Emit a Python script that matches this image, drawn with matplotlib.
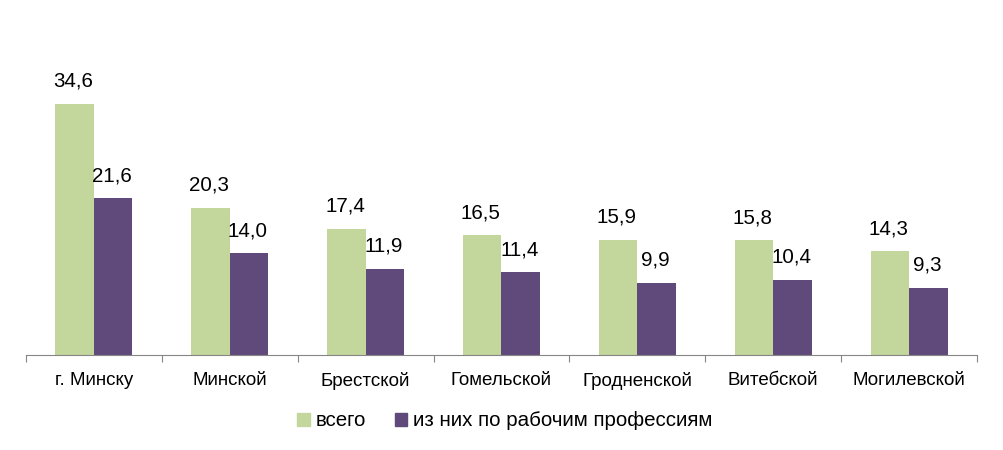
import numpy as np
import matplotlib.pyplot as plt
from matplotlib.patches import Patch

regions = ["г. Минску", "Минской", "Брестской", "Гомельской", "Гродненской", "Витебской", "Могилевской"]
total = [34.6, 20.3, 17.4, 16.5, 15.9, 15.8, 14.3]
workers = [21.6, 14.0, 11.9, 11.4, 9.9, 10.4, 9.3]
series_names = ["всего", "из них по рабочим профессиям"]

green = "#C3D69B"
purple = "#604A7B"

plt.rcParams['font.family'] = ['Liberation Sans', 'DejaVu Sans']

fig = plt.figure(figsize=(10.04, 4.5), dpi=100)
ax = fig.add_axes([26 / 1004, 95 / 450, 951 / 1004, 290.2 / 450])

x = np.arange(len(regions))
w = 0.283
b1 = ax.bar(x - w / 2, total, w, color=green)
b2 = ax.bar(x + w / 2, workers, w, color=purple)

for bars in (b1, b2):
    for r in bars:
        h = r.get_height()
        ax.annotate(f"{h:.1f}".replace(".", ","), (r.get_x() + r.get_width() / 2, h),
                    xytext=(-1, 9.5), textcoords="offset points", ha="center", va="bottom",
                    fontsize=14.8, color="black")

ax.set_xlim(-0.5, len(regions) - 0.5)
ax.set_ylim(0, 40)
ax.set_yticks([])
for s in ("top", "right", "left"):
    ax.spines[s].set_visible(False)
ax.spines["bottom"].set_color("#868686")

ax.set_xticks(np.arange(-0.5, len(regions), 1.0))
ax.set_xticklabels([])
ax.tick_params(axis="x", length=5, color="#868686", direction="out")
ax.set_xticks(x, minor=True)
ax.set_xticklabels(regions, minor=True, fontsize=13.5)
ax.tick_params(axis="x", which="minor", length=0, pad=12)

handles = [Patch(color=green), Patch(color=purple)]
fig.legend(handles, series_names, loc="center", bbox_to_anchor=(505 / 1004, 1 - 421 / 450),
           ncol=2, frameon=False, fontsize=14.8, handlelength=0.6, handleheight=0.6,
           handletextpad=0.3, columnspacing=1.4)

fig.savefig("out.png", dpi=100)
